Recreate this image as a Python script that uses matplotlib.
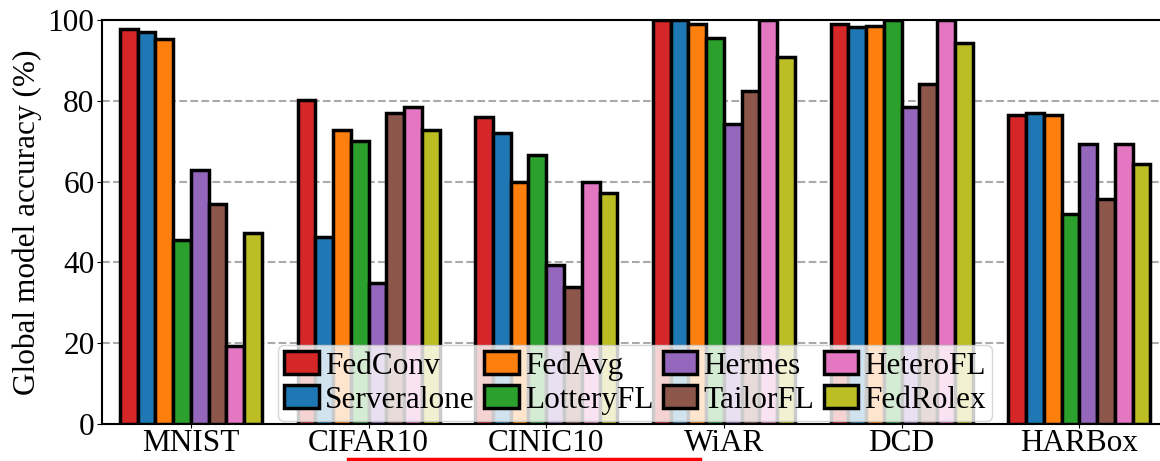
import numpy as np
import matplotlib.pyplot as plt
from matplotlib.lines import Line2D

plt.rcParams['font.family'] = ['Liberation Serif', 'DejaVu Serif']

datasets = ['MNIST', 'CIFAR10', 'CINIC10', 'WiAR', 'DCD', 'HARBox']
methods = ['FedConv', 'Serveralone', 'FedAvg', 'LotteryFL',
           'Hermes', 'TailorFL', 'HeteroFL', 'FedRolex']
colors = ['#d62728', '#1f77b4', '#ff7f0e', '#2ca02c',
          '#9467bd', '#8c564b', '#e377c2', '#bcbd22']

# accuracy (%) per method, one value per dataset
fedconv = [97.8, 80.2, 76.1, 100.0, 99.0, 76.5]
serveralone = [97.0, 46.2, 72.0, 100.0, 98.2, 76.9]
fedavg = [95.3, 72.8, 59.9, 99.0, 98.6, 76.5]
lotteryfl = [45.6, 70.1, 66.7, 95.7, 100.0, 52.1]
hermes = [62.9, 34.8, 39.4, 74.4, 78.5, 69.3]
tailorfl = [54.4, 77.1, 34.0, 82.5, 84.2, 55.8]
heterofl = [19.4, 78.5, 59.9, 100.0, 100.0, 69.3]
fedrolex = [47.4, 72.9, 57.1, 90.8, 94.4, 64.5]

values = [fedconv, serveralone, fedavg, lotteryfl,
          hermes, tailorfl, heterofl, fedrolex]

fig = plt.figure(figsize=(11.6, 4.61), dpi=100)
ax = fig.add_axes([0.088, 0.0803, 0.919, 0.876])

x = np.arange(len(datasets))
width = 0.1
for i, (name, vals) in enumerate(zip(methods, values)):
    offset = (i - (len(methods) - 1) / 2) * width
    ax.bar(x + offset, vals, width, color=colors[i], label=name,
           edgecolor='black', linewidth=2.5, zorder=3)

ax.set_xlim(-0.5, 5.5)
ax.set_ylim(0, 100)
ax.set_xticks(x)
ax.set_xticklabels(datasets, fontsize=22.5)
ax.set_yticks([0, 20, 40, 60, 80, 100])
ax.tick_params(axis='y', labelsize=22.5, pad=2)
ax.tick_params(axis='x', pad=0.5, length=3)
ax.set_ylabel('Global model accuracy (%)', fontsize=22.5, labelpad=4)
ax.yaxis.grid(True, linestyle='--', color='#aaaaaa', linewidth=1.5, zorder=0)
ax.set_axisbelow(True)
for s in ax.spines.values():
    s.set_linewidth(1.5)

ax.legend(loc='lower center', ncol=4, fontsize=22.5, handlelength=1.1,
          handleheight=0.75, handletextpad=0.2, columnspacing=0.3,
          labelspacing=0.15, borderpad=0.2, borderaxespad=0.1,
          framealpha=0.8)

# red underline beneath the middle labels
fig.add_artist(Line2D([348 / 1160, 700 / 1160], [0.0054, 0.0054],
                      color='red', linewidth=2.5))

fig.savefig('out.png', dpi=100)
